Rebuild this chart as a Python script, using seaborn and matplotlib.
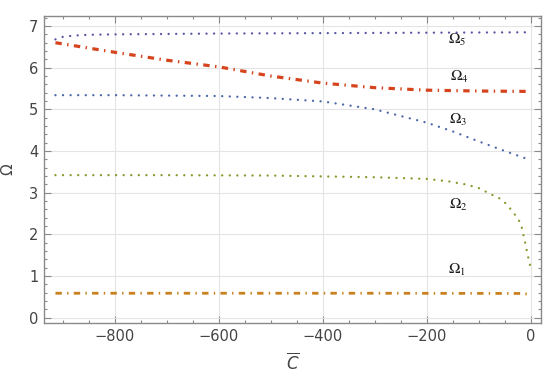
import matplotlib
matplotlib.use("Agg")
import matplotlib.pyplot as plt
import seaborn as sns
import numpy as np
import pandas as pd
from matplotlib.ticker import MultipleLocator

# ---- data ----
x1 = [-914, -600, -300, -20, 0]
y1 = [0.585, 0.585, 0.585, 0.58, 0.56]

x2 = [-914, -700, -500, -400, -300, -200, -158, -126, -100, -92, -77, -63.5, -52.7,
      -42.3, -33.5, -25, -18.7, -15.4, -12.3, -9, -6.5, -3.3, 0]
y2 = [3.42, 3.42, 3.41, 3.39, 3.37, 3.33, 3.27, 3.20, 3.11, 3.06, 2.96, 2.89, 2.80,
      2.66, 2.52, 2.38, 2.24, 2.06, 1.88, 1.70, 1.53, 1.36, 1.18]

x3 = [-914, -800, -600, -500, -400, -300, -200, -150, -100, -50, 0]
y3 = [5.34, 5.34, 5.32, 5.27, 5.19, 5.00, 4.68, 4.47, 4.23, 4.00, 3.78]

x4 = [-914, -800, -700, -600, -500, -400, -300, -200, -100, 0]
y4 = [6.60, 6.37, 6.18, 6.02, 5.80, 5.63, 5.52, 5.46, 5.44, 5.43]

x5 = [-914, -900, -880, -850, -800, -600, -400, -200, 0]
y5 = [6.68, 6.74, 6.77, 6.79, 6.80, 6.82, 6.83, 6.84, 6.85]

labels = [r"$\Omega_1$", r"$\Omega_2$", r"$\Omega_3$", r"$\Omega_4$", r"$\Omega_5$"]
label_x = [-142, -139, -139, -137, -142]
label_y = [1.14, 2.70, 4.74, 5.78, 6.66]

xticks = [-800, -600, -400, -200, 0]
yticks = [0, 1, 2, 3, 4, 5, 6, 7]

# ---- figure ----
sns.set_theme(style="white")
plt.rcParams["font.family"] = ["DejaVu Sans"]

fig = plt.figure(figsize=(5.5, 3.73), dpi=100)
ax = fig.add_axes([0.08, 0.134, 0.903, 0.823])

dot = (0, (0.01, 3.2))
dashdot4 = (0, (2.0, 1.7, 0.45, 1.7))
dashdot1 = (0, (2.3, 1.9, 0.5, 1.9))

c1, c2, c3, c4, c5 = "#c8811e", "#7f9c2a", "#4a68a8", "#d6441e", "#5656a2"

sns.lineplot(x=x1, y=y1, ax=ax, color=c1, lw=2.0, linestyle=dashdot1)
sns.lineplot(x=x2, y=y2, ax=ax, color=c2, lw=1.7, linestyle=dot, dash_capstyle="round")
sns.lineplot(x=x3, y=y3, ax=ax, color=c3, lw=1.7, linestyle=dot, dash_capstyle="round")
sns.lineplot(x=x4, y=y4, ax=ax, color=c4, lw=2.3, linestyle=dashdot4)
sns.lineplot(x=x5, y=y5, ax=ax, color=c5, lw=1.7, linestyle=dot, dash_capstyle="round")

for lab, lx, ly in zip(labels, label_x, label_y):
    ax.text(lx, ly, lab, fontsize=11, math_fontfamily="stix", color="#1a1a1a",
            ha="center", va="center")

ax.set_xlim(-936, 19)
ax.set_ylim(-0.13, 7.24)
ax.set_xticks(xticks)
ax.set_yticks(yticks)
ax.set_xticklabels(["\u2212800", "\u2212600", "\u2212400", "\u2212200", "0"])
ax.xaxis.set_minor_locator(MultipleLocator(50))
ax.yaxis.set_minor_locator(MultipleLocator(0.2))

ax.grid(True, which="major", color="#e4e4e4", lw=0.8)
ax.set_axisbelow(True)

for s in ax.spines.values():
    s.set_color("#8a8a8a")
    s.set_linewidth(1.0)

ax.tick_params(which="both", direction="in", top=True, right=True, bottom=True, left=True,
               color="#8a8a8a", labelcolor="#444444", labelsize=10.5, width=0.8)
ax.tick_params(which="major", length=5, pad=4)
ax.tick_params(which="minor", length=2.5)

ax.set_xlabel(r"$\overline{C}$", fontsize=12, color="#444444", labelpad=6)
ax.set_ylabel("\u03a9", fontsize=11, color="#444444", labelpad=10)

fig.savefig("out.png", dpi=100)
